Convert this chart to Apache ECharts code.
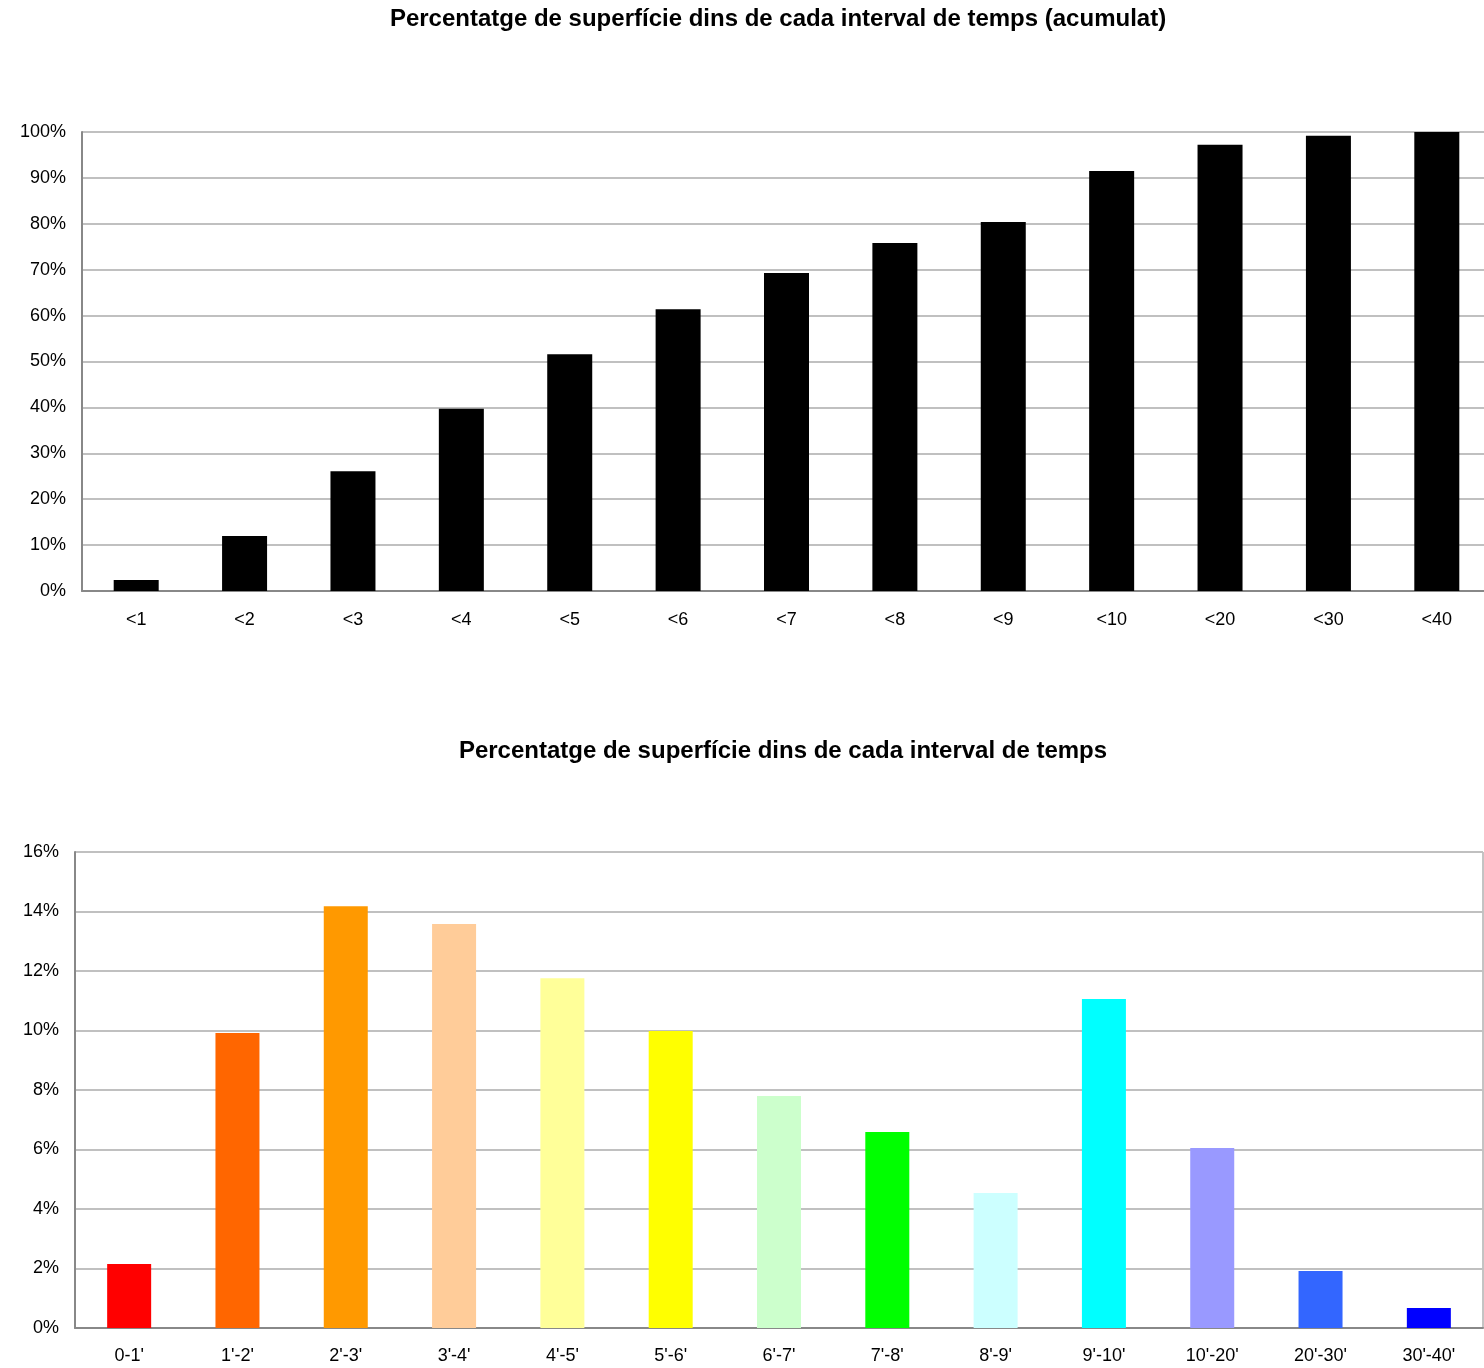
<!DOCTYPE html>
<html>
<head>
<meta charset="utf-8">
<script src="https://cdn.jsdelivr.net/npm/echarts@6/dist/echarts.min.js"></script>
<style>
html,body{margin:0;padding:0;background:#fff;}
#c{width:1484px;height:1368px;}
</style>
</head>
<body>
<div id="c"></div>
<script>
const titleTop = "Percentatge de superfície dins de cada interval de temps (acumulat)";
const titleBottom = "Percentatge de superfície dins de cada interval de temps";
const catsTop = ["<1","<2","<3","<4","<5","<6","<7","<8","<9","<10","<20","<30","<40"];
const valsTop = [2.4, 12.0, 26.1, 39.7, 51.6, 61.4, 69.3, 75.8, 80.4, 91.5, 97.2, 99.2, 100];
const catsBottom = ["0-1'","1'-2'","2'-3'","3'-4'","4'-5'","5'-6'","6'-7'","7'-8'","8'-9'","9'-10'","10'-20'","20'-30'","30'-40'"];
const valsBottom = [2.15, 9.92, 14.18, 13.58, 11.76, 9.98, 7.8, 6.59, 4.54, 11.06, 6.05, 1.92, 0.67];
const colorsBottom = ["#FF0000","#FF6600","#FF9900","#FFCC99","#FFFF99","#FFFF00","#CCFFCC","#00FF00","#CCFFFF","#00FFFF","#9999FF","#3366FF","#0000FF"];

const FONT = "'Liberation Sans', Arial, sans-serif";
const chart = echarts.init(document.getElementById('c'), null, {renderer:'canvas'});
const axisLabel = {color:'#000', fontFamily:FONT, fontSize:18};
chart.setOption({
  animation:false,
  backgroundColor:'#fff',
  title:[
    {text:titleTop, left:773, top:2, textAlign:'center',
     textStyle:{fontFamily:FONT, fontSize:24, fontWeight:'bold', color:'#000'}},
    {text:titleBottom, left:778, top:734, textAlign:'center',
     textStyle:{fontFamily:FONT, fontSize:24, fontWeight:'bold', color:'#000'}}
  ],
  grid:[
    {left:82, top:132, width:1409, height:459, show:true, borderColor:'#888', borderWidth:1,
     backgroundColor:'transparent', outerBoundsMode:'none'},
    {left:75, top:852, width:1408, height:476, show:true, borderColor:'#888', borderWidth:1,
     backgroundColor:'transparent', outerBoundsMode:'none'}
  ],
  xAxis:[
    {type:'category', gridIndex:0, data:catsTop,
     axisLine:{lineStyle:{color:'#888', width:2}}, axisTick:{show:false},
     axisLabel:Object.assign({margin:20}, axisLabel)},
    {type:'category', gridIndex:1, data:catsBottom,
     axisLine:{lineStyle:{color:'#888', width:2}}, axisTick:{show:false},
     axisLabel:Object.assign({margin:19}, axisLabel)}
  ],
  yAxis:[
    {type:'value', gridIndex:0, min:0, max:100, interval:10,
     axisLine:{show:true, lineStyle:{color:'#888', width:2}}, axisTick:{show:false},
     splitLine:{lineStyle:{color:'#c0c0c0', width:2}},
     axisLabel:Object.assign({margin:16, formatter:'{value}%'}, axisLabel)},
    {type:'value', gridIndex:1, min:0, max:16, interval:2,
     axisLine:{show:true, lineStyle:{color:'#888', width:2}}, axisTick:{show:false},
     splitLine:{lineStyle:{color:'#c0c0c0', width:2}},
     axisLabel:Object.assign({margin:16, formatter:'{value}%'}, axisLabel)}
  ],
  series:[
    {type:'bar', xAxisIndex:0, yAxisIndex:0, data:valsTop, barWidth:45,
     itemStyle:{color:'#000'}},
    {type:'bar', xAxisIndex:1, yAxisIndex:1, barWidth:44,
     data:valsBottom.map((v,i)=>({value:v, itemStyle:{color:colorsBottom[i]}}))}
  ]
});
</script>
</body>
</html>
